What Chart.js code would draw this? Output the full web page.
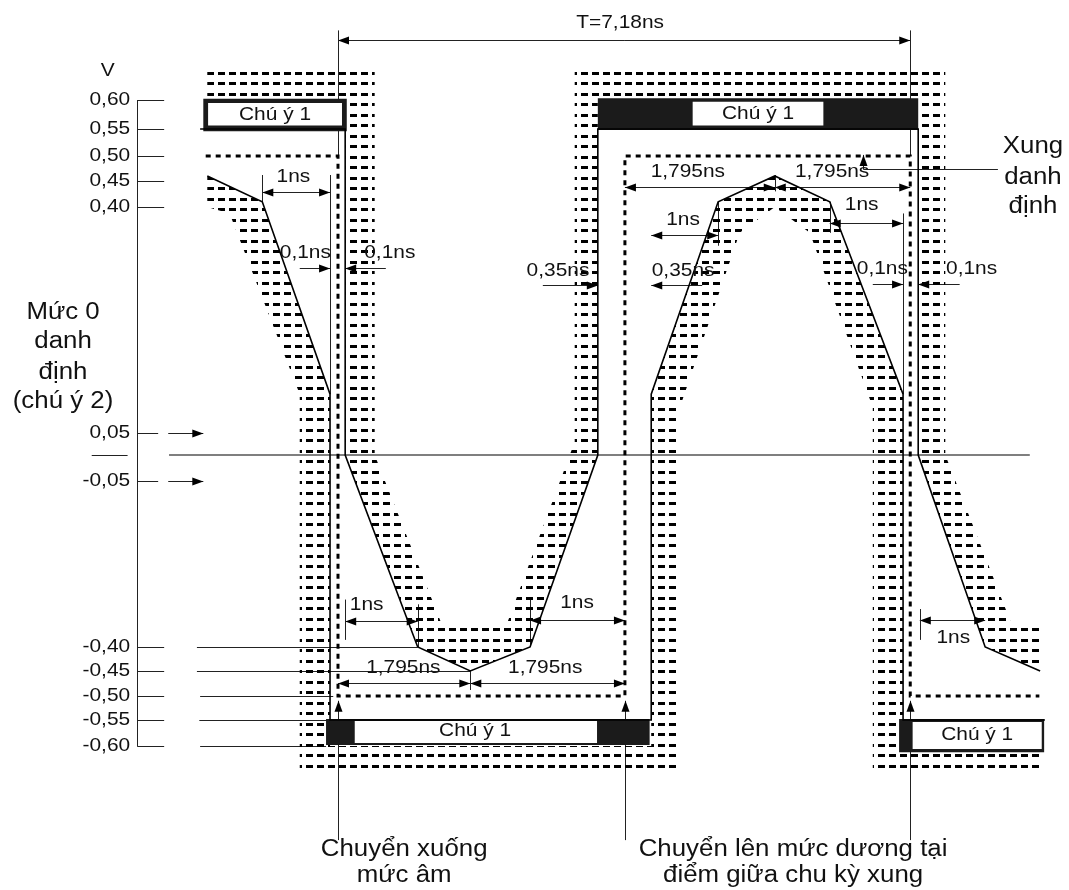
<!DOCTYPE html>
<html lang="vi">
<head>
<meta charset="utf-8">
<title>Mặt nạ xung</title>
<script src="https://cdn.jsdelivr.net/npm/chart.js@4.4.1/dist/chart.umd.min.js"></script>
<style>
  html, body { margin: 0; padding: 0; background: #fff; }
  canvas { display: block; }
</style>
</head>
<body>
<canvas id="mask-chart" width="1069" height="890"></canvas>
<script>
// ============================================================
// Data  (time in ns from the nominal falling edge, level in V)
// ============================================================

// Levels on the left axis, top to bottom, and their labels
const LEVELS = [0.60, 0.55, 0.50, 0.45, 0.40, 0.05, 0, -0.05, -0.40, -0.45, -0.50, -0.55, -0.60];
const LEVEL_LABELS = ['0,60', '0,55', '0,50', '0,45', '0,40', '0,05', '', '-0,05', '-0,40', '-0,45', '-0,50', '-0,55', '-0,60'];

// Nominal pulse (dotted)
const NOMINAL_T = [-1.66, 0, 0, 3.60, 3.60, 7.18, 7.18, 8.80];
const NOMINAL_V = [0.50, 0.50, -0.50, -0.50, 0.50, 0.50, -0.50, -0.50];

// Upper limit of the mask
const UPPER_T = [-1.73, 0.09, 0.09, 1.00, 1.66, 2.41, 3.26, 3.26, 7.28, 7.28, 8.12, 8.81];
const UPPER_V = [0.55, 0.55, 0, -0.40, -0.45, -0.40, 0, 0.55, 0.55, 0, -0.40, -0.45];

// Lower limit of the mask
const LOWER_T = [-1.64, -0.95, -0.10, -0.10, 3.93, 3.93, 4.77, 5.48, 6.17, 7.09, 7.09, 8.87];
const LOWER_V = [0.46, 0.41, 0.11, -0.55, -0.55, 0.11, 0.41, 0.46, 0.41, 0.11, -0.55, -0.55];

// Forbidden zones (stippled bands)
const BAND_A_T = [-1.64, 0.46, 0.46, 1.32, 2.10, 2.97, 2.97, 3.26, 3.26, 2.41, 1.66, 1.00, 0.09, 0.09, -1.64, -1.64];
const BAND_A_V = [0.655, 0.655, 0, -0.36, -0.36, 0.03, 0.60, 0.60, 0, -0.40, -0.45, -0.40, 0, 0.60, 0.60, 0.655];
const BAND_B_T = [2.97, 7.62, 7.62, 8.47, 8.81, 8.81, 8.12, 7.28, 7.28, 2.97, 2.97];
const BAND_B_V = [0.655, 0.655, 0, -0.36, -0.36, -0.45, -0.40, 0, 0.60, 0.60, 0.655];
const BAND_C_T = [-1.64, -0.95, -0.10, -0.10, 3.93, 3.93, 4.77, 5.48, 6.17, 7.09, 7.09, 8.82, 8.82,
                  6.71, 6.71, 5.92, 5.48, 5.04, 4.29, 4.29, -0.48, -0.48, -1.36, -1.64, -1.64];
const BAND_C_V = [0.46, 0.41, 0.11, -0.60, -0.60, 0.11, 0.41, 0.46, 0.41, 0.11, -0.60, -0.60, -0.65,
                  -0.65, 0.09, 0.36, 0.40, 0.36, 0.09, -0.65, -0.65, 0.11, 0.39, 0.40, 0.46];

// "Chú ý 1" boxes: [t1, t2, top, bottom]
const NOTE_FRAMES  = [[-1.69, 0.11, 0.602, 0.546], [3.26, 7.28, 0.603, 0.548], [-0.15, 3.91, -0.548, -0.598], [7.04, 8.86, -0.548, -0.612]];
const NOTE_WINDOWS = [[-1.63, 0.05, 0.595, 0.556], [4.45, 6.09, 0.597, 0.556], [0.21, 3.25, -0.552, -0.594], [7.21, 8.83, -0.554, -0.606]];
const NOTE_TEXT_T  = [-0.79, 5.27, 1.72, 8.02];
const NOTE_TEXT_V  = [0.574, 0.577, -0.571, -0.579];

// Nominal zero level line
const ZERO_T = [-2.12, 8.68];

// Dimension lines: [t1, v1, t2, v2, heads]  (0 none, 1 at end, 2 both)
const DIM_LINES = [
  [0, 0.703, 7.18, 0.703, 2], [0, 0.72, 0, 0.50, 0], [7.18, 0.72, 7.18, 0.50, 0],
  [0, -0.781, 0, -0.51, 1], [3.60, -0.781, 3.60, -0.51, 1], [7.18, -0.781, 7.18, -0.51, 1],
  [-0.95, 0.429, -0.10, 0.429, 2], [-0.95, 0.462, -0.95, 0.41, 0], [-0.10, 0.462, -0.10, 0.11, 0],
  [-0.48, 0.306, -0.10, 0.306, 1], [0.60, 0.306, 0.09, 0.306, 1],
  [2.57, 0.279, 3.26, 0.279, 1], [4.57, 0.279, 3.93, 0.279, 1],
  [3.93, 0.357, 4.77, 0.357, 2], [4.77, 0.41, 4.77, 0.34, 0],
  [3.60, 0.438, 5.48, 0.438, 2], [5.48, 0.438, 7.18, 0.438, 2], [5.48, 0.462, 5.48, 0.43, 0],
  [6.59, 0.474, 6.59, 0.502, 1], [6.59, 0.474, 8.28, 0.474, 0],
  [6.17, 0.375, 7.09, 0.375, 2], [6.17, 0.41, 6.17, 0.36, 0], [7.09, 0.39, 7.09, 0.11, 0],
  [6.71, 0.28, 7.09, 0.28, 1], [7.80, 0.28, 7.28, 0.28, 1],
  [0.09, -0.345, 1.00, -0.345, 2], [0.09, -0.30, 0.09, -0.385, 0], [1.00, -0.31, 1.00, -0.40, 0],
  [2.41, -0.343, 3.60, -0.343, 2], [2.41, -0.30, 2.41, -0.40, 0],
  [0, -0.474, 1.66, -0.474, 2], [1.66, -0.474, 3.60, -0.474, 2], [1.66, -0.45, 1.66, -0.488, 0],
  [7.30, -0.343, 8.12, -0.343, 2], [7.30, -0.32, 7.30, -0.385, 0],
  [-2.13, 0.05, -1.69, 0.05, 1], [-2.13, -0.05, -1.69, -0.05, 1],
  // level guides from the axis
  [-1.77, -0.40, 1.00, -0.40, 0], [-1.77, -0.45, 1.66, -0.45, 0], [-1.73, -0.50, -0.06, -0.50, 0],
  [-1.74, -0.55, -0.10, -0.55, 0], [-1.73, -0.60, -0.15, -0.60, 0], [-3.09, 0, -2.64, 0, 0],
];

const SMALL_TEXTS = [
  ['T=7,18ns', 3.54, 0.734], ['V', -2.89, 0.65],
  ['1ns', -0.56, 0.458], ['0,1ns', -0.41, 0.329], ['0,1ns', 0.65, 0.329],
  ['0,35ns', 2.76, 0.302], ['0,35ns', 4.33, 0.302], ['1ns', 4.33, 0.380],
  ['1,795ns', 4.39, 0.468], ['1,795ns', 6.20, 0.468], ['1ns', 6.57, 0.404],
  ['0,1ns', 6.83, 0.305], ['0,1ns', 7.95, 0.305],
  ['1ns', 0.36, -0.311], ['1ns', 3.00, -0.307], ['1,795ns', 0.82, -0.444], ['1,795ns', 2.60, -0.444],
  ['1ns', 7.72, -0.381],
];

const LARGE_TEXTS = [
  ['Mức 0', -3.45, 0.236], ['danh', -3.45, 0.191], ['định', -3.45, 0.144], ['(chú ý 2)', -3.45, 0.098],
  ['Xung', 8.72, 0.517], ['danh', 8.72, 0.456], ['định', 8.72, 0.40],
  ['Chuyển xuống', 0.83, -0.80], ['mức âm', 0.83, -0.85],
  ['Chuyển lên mức dương tại', 5.71, -0.80], ['điểm giữa chu kỳ xung', 5.71, -0.85],
];

// ============================================================
// Layout
// ============================================================

const X_MIN = -4.241;
const X_MAX = 9.172;
const AXIS_T = -2.52;
// pixel row of each entry of LEVELS (the drawing's voltage axis is not uniform)
const LEVEL_ROWS = [100, 129, 156, 181, 207, 433, 455, 481, 647, 671, 696, 720, 746];
const FONT = '"Liberation Sans", Arial, sans-serif';
const TEXT_STRETCH = 1.1;
const INK = '#111';

// ============================================================
// Non-uniform voltage scale
// ============================================================

class LevelScale extends Chart.LinearScale {
  static id = 'level';
  static defaults = Chart.LinearScale.defaults;

  getPixelForValue(v) {
    let i = 0;
    while (i < LEVELS.length - 2 && v < LEVELS[i + 1]) i++;
    const f = (v - LEVELS[i]) / (LEVELS[i + 1] - LEVELS[i]);
    return this.top + LEVEL_ROWS[i] + f * (LEVEL_ROWS[i + 1] - LEVEL_ROWS[i]);
  }

  getValueForPixel(p) {
    const r = p - this.top;
    let i = 0;
    while (i < LEVEL_ROWS.length - 2 && r > LEVEL_ROWS[i + 1]) i++;
    const f = (r - LEVEL_ROWS[i]) / (LEVEL_ROWS[i + 1] - LEVEL_ROWS[i]);
    return LEVELS[i] + f * (LEVELS[i + 1] - LEVELS[i]);
  }
}
Chart.register(LevelScale);

// ============================================================
// Helpers
// ============================================================

function pts(ts, vs) {
  return ts.map((t, i) => ({ x: t, y: vs[i] }));
}

function rect([t1, t2, top, bottom]) {
  return pts([t1, t2, t2, t1, t1], [top, top, bottom, bottom, top]);
}

function stipple() {
  const tile = document.createElement('canvas');
  tile.width = 11;
  tile.height = 21;
  const g = tile.getContext('2d');
  g.fillStyle = '#000';
  g.fillRect(0, 0, 7, 3);
  g.fillRect(0, 10, 7, 3);
  const pattern = g.createPattern(tile, 'repeat');
  pattern.setTransform(new DOMMatrix().translate(9, 9));
  return pattern;
}

function lineSet(data, color, width, order, extra) {
  return Object.assign({
    data, borderColor: color, borderWidth: width, pointRadius: 0,
    fill: false, tension: 0, order,
  }, extra || {});
}

function shapeSet(data, fillStyle, order) {
  return {
    data, fill: 'shape', backgroundColor: fillStyle, borderColor: 'rgba(0,0,0,0)',
    borderWidth: 0, pointRadius: 0, tension: 0, order,
  };
}

function crisp(v) {
  return Math.round(v) + 0.5;
}

function drawText(ctx, str, x, y, size, align) {
  ctx.save();
  ctx.translate(x, y);
  ctx.scale(TEXT_STRETCH, 1);
  ctx.font = `${size}px ${FONT}`;
  ctx.textAlign = align || 'center';
  ctx.textBaseline = 'middle';
  ctx.fillStyle = INK;
  ctx.fillText(str, 0, 0);
  ctx.restore();
}

function arrowHead(ctx, fx, fy, tx, ty) {
  const a = Math.atan2(ty - fy, tx - fx);
  const len = 11, half = 4;
  ctx.beginPath();
  ctx.moveTo(tx, ty);
  ctx.lineTo(tx - len * Math.cos(a) + half * Math.sin(a), ty - len * Math.sin(a) - half * Math.cos(a));
  ctx.lineTo(tx - len * Math.cos(a) - half * Math.sin(a), ty - len * Math.sin(a) + half * Math.cos(a));
  ctx.closePath();
  ctx.fill();
}

function drawSegment(ctx, x1, y1, x2, y2, heads) {
  if (Math.abs(x1 - x2) < 0.5) { x1 = x2 = crisp(x1); }
  if (Math.abs(y1 - y2) < 0.5) { y1 = y2 = crisp(y1); }
  ctx.beginPath();
  ctx.moveTo(x1, y1);
  ctx.lineTo(x2, y2);
  ctx.stroke();
  if (heads >= 1) arrowHead(ctx, x1, y1, x2, y2);
  if (heads === 2) arrowHead(ctx, x2, y2, x1, y1);
}

// ============================================================
// Annotation plugin (axis, dimension arrows, texts)
// ============================================================

const annotations = {
  id: 'annotations',
  beforeDatasetsDraw(chart) {
    const { ctx } = chart;
    const X = t => chart.scales.x.getPixelForValue(t);
    const Y = v => chart.scales.y.getPixelForValue(v);
    ctx.save();
    ctx.strokeStyle = '#222';
    ctx.fillStyle = '#000';
    ctx.lineWidth = 1;

    // left axis with ticks pointing right
    const ax = X(AXIS_T);
    drawSegment(ctx, ax, Y(LEVELS[0]), ax, Y(LEVELS[LEVELS.length - 1]), 0);
    LEVELS.forEach((v, i) => {
      if (!LEVEL_LABELS[i]) return;
      const len = Math.abs(v) === 0.05 ? 21 : 27;
      drawSegment(ctx, ax, Y(v), ax + len, Y(v), 0);
    });

    DIM_LINES.forEach(([t1, v1, t2, v2, heads]) => {
      drawSegment(ctx, X(t1), Y(v1), X(t2), Y(v2), heads);
    });
    ctx.restore();
  },
  afterDatasetsDraw(chart) {
    const { ctx } = chart;
    const X = t => chart.scales.x.getPixelForValue(t);
    const Y = v => chart.scales.y.getPixelForValue(v);

    const ax = X(AXIS_T);
    LEVELS.forEach((v, i) => {
      if (LEVEL_LABELS[i]) drawText(ctx, LEVEL_LABELS[i], ax - 7, Y(v), 19, 'right');
    });
    NOTE_TEXT_T.forEach((t, i) => drawText(ctx, 'Chú ý 1', X(t), Y(NOTE_TEXT_V[i]), 19));
    SMALL_TEXTS.forEach(([s, t, v]) => drawText(ctx, s, X(t), Y(v), 19));
    LARGE_TEXTS.forEach(([s, t, v]) => drawText(ctx, s, X(t), Y(v), 23.5));
  },
};

// ============================================================
// Chart
// ============================================================

function init() {
  const band = stipple();
  const datasets = [
    shapeSet(pts(BAND_A_T, BAND_A_V), band, 9),
    shapeSet(pts(BAND_B_T, BAND_B_V), band, 9),
    shapeSet(pts(BAND_C_T, BAND_C_V), band, 9),
    ...NOTE_FRAMES.map(r => shapeSet(rect(r), '#1b1b1b', 6)),
    ...NOTE_WINDOWS.map(r => shapeSet(rect(r), '#ffffff', 5)),
    lineSet(pts(ZERO_T, [0, 0]), '#000', 1.2, 3),
    lineSet(pts(NOMINAL_T, NOMINAL_V), '#000', 3, 2, { borderDash: [5, 5], borderCapStyle: 'butt' }),
    lineSet(pts(UPPER_T, UPPER_V), '#000', 1.6, 1),
    lineSet(pts(LOWER_T, LOWER_V), '#000', 1.6, 1),
  ];

  new Chart(document.getElementById('mask-chart'), {
    type: 'line',
    data: { datasets },
    options: {
      responsive: false,
      animation: false,
      events: [],
      layout: { padding: 0 },
      scales: {
        x: { type: 'linear', min: X_MIN, max: X_MAX, display: false },
        y: { type: 'level', min: -0.7, max: 0.75, display: false },
      },
      plugins: {
        legend: { display: false },
        tooltip: { enabled: false },
      },
    },
    plugins: [annotations],
  });
}

document.addEventListener('DOMContentLoaded', init);
</script>
</body>
</html>
